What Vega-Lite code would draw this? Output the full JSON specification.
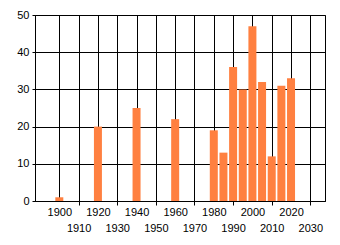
{
  "$schema": "https://vega.github.io/schema/vega-lite/v6.json",
  "autosize": "none",
  "width": 290,
  "height": 186,
  "padding": {"left": 35, "top": 15, "right": 15, "bottom": 44},
  "background": "white",
  "config": {
    "view": {"stroke": "black", "strokeWidth": 1},
    "axis": {
      "labelFont": "Liberation Sans",
      "labelFontSize": 11,
      "labelColor": "black",
      "domainColor": "black",
      "tickColor": "black",
      "gridColor": "black",
      "gridOpacity": 1,
      "gridWidth": 1,
      "title": null
    }
  },
  "data": {
    "values": [
      {"year": 1900, "value": 1},
      {"year": 1920, "value": 20},
      {"year": 1940, "value": 25},
      {"year": 1960, "value": 22},
      {"year": 1980, "value": 19},
      {"year": 1985, "value": 13},
      {"year": 1990, "value": 36},
      {"year": 1995, "value": 30},
      {"year": 2000, "value": 47},
      {"year": 2005, "value": 32},
      {"year": 2010, "value": 12},
      {"year": 2015, "value": 31},
      {"year": 2020, "value": 33}
    ]
  },
  "mark": {"type": "bar", "size": 8, "color": "#FF8040"},
  "encoding": {
    "x": {
      "field": "year",
      "type": "quantitative",
      "scale": {"domain": [1890, 2035], "nice": false, "zero": false},
      "axis": {
        "values": [1900, 1910, 1920, 1930, 1940, 1950, 1960, 1970, 1980, 1990, 2000, 2010, 2020, 2030],
        "format": "d",
        "labelFlush": false,
        "labelOverlap": false,
        "labelBaseline": "top",
        "tickSize": 4,
        "tickOpacity": {"expr": "datum.value % 20 == 10 ? 1 : 0"},
        "labelPadding": {"expr": "datum.value % 20 == 10 ? 17 : 1"}
      }
    },
    "y": {
      "field": "value",
      "type": "quantitative",
      "scale": {"domain": [0, 50], "nice": false},
      "axis": {
        "values": [0, 10, 20, 30, 40, 50],
        "tickSize": 3,
        "labelPadding": 3,
        "labelFlush": false
      }
    }
  }
}
